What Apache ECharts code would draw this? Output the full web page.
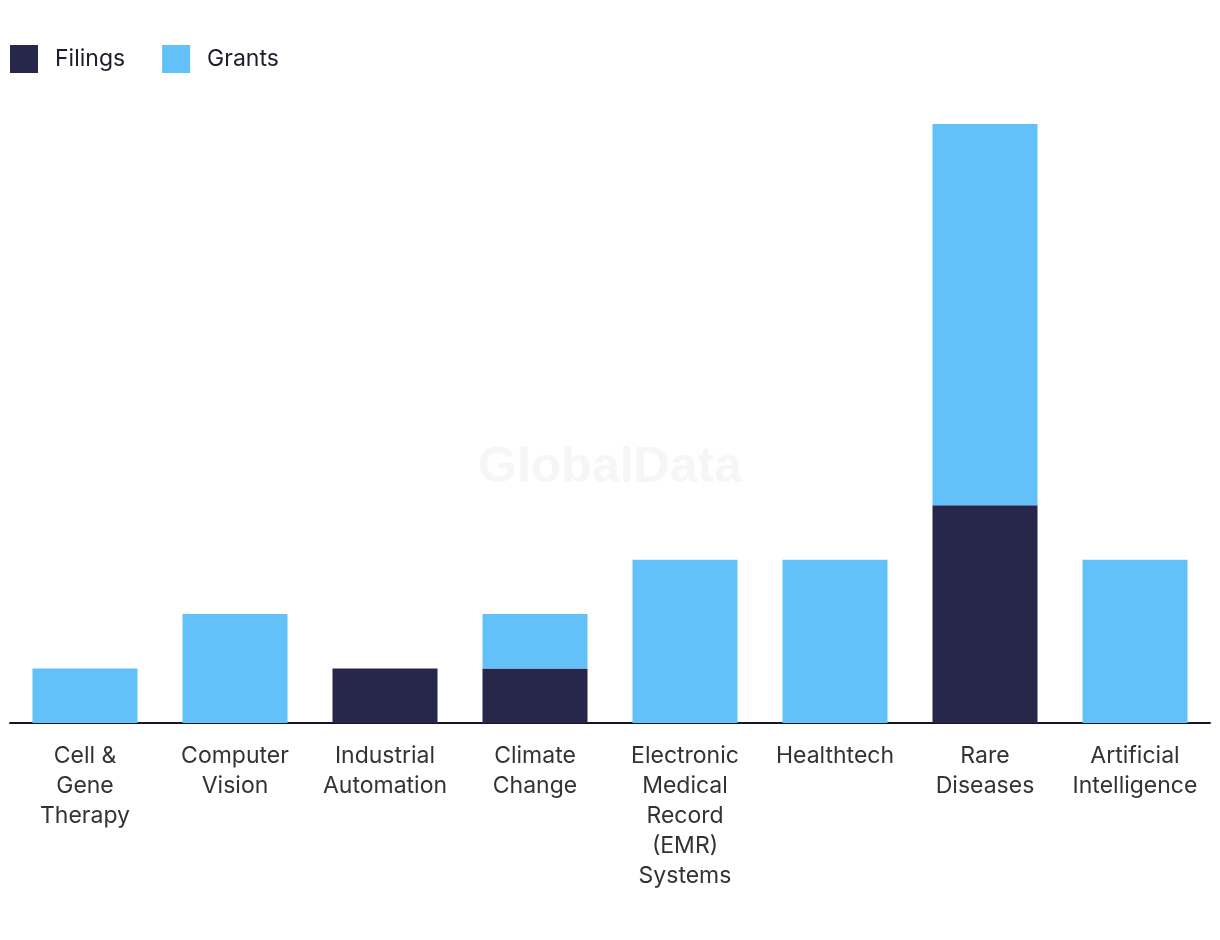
<!DOCTYPE html>
<html>
<head>
<meta charset="utf-8">
<script src="https://cdn.jsdelivr.net/npm/echarts@6/dist/echarts.min.js"></script>
<style>html,body{margin:0;padding:0;background:#fff;}#chart{width:1220px;height:940px;}</style>
</head>
<body>
<div id="chart"></div>
<script>
const categories = ["Cell &\nGene\nTherapy", "Computer\nVision", "Industrial\nAutomation", "Climate\nChange", "Electronic\nMedical\nRecord\n(EMR)\nSystems", "Healthtech", "Rare\nDiseases", "Artificial\nIntelligence"];
const filings = [0, 0, 1, 1, 0, 0, 4, 0];
const grants = [1, 2, 0, 1, 3, 3, 7, 3];

const chart = echarts.init(document.getElementById('chart'));
const font = 'Inter, "Open Sans", sans-serif';
chart.setOption({
  animation: false,
  backgroundColor: '#ffffff',
  graphic: [{
    type: 'text', left: 'center', top: 443, z: -1,
    style: { text: 'GlobalData', fontSize: 50, fontWeight: 'bold', fill: '#f6f6f6', fontFamily: 'Liberation Sans, Arial, sans-serif' }
  }],
  legend: {
    left: 10, top: 45, padding: 0, itemWidth: 28, itemHeight: 28, itemGap: 37,
    icon: 'rect',
    textStyle: { fontSize: 23, color: '#1c1c2e', fontFamily: font, padding: [0, 0, 0, 12] },
    data: ['Filings', 'Grants']
  },
  grid: { left: 10, right: 10, top: 124, bottom: 217, containLabel: false },
  xAxis: {
    type: 'category', data: categories,
    axisLine: { lineStyle: { color: '#161629', width: 2 } },
    axisTick: { show: false },
    axisLabel: { interval: 0, fontSize: 23, lineHeight: 30, color: '#333333', fontFamily: font, margin: 18 }
  },
  yAxis: { type: 'value', min: 0, max: 11, show: false, splitLine: { show: false } },
  series: [
    { name: 'Filings', type: 'bar', stack: 'a', data: filings, barWidth: '70%', itemStyle: { color: '#27274b' } },
    { name: 'Grants', type: 'bar', stack: 'a', data: grants, barWidth: '70%', itemStyle: { color: '#63c1f9' } }
  ]
});
</script>
</body>
</html>
